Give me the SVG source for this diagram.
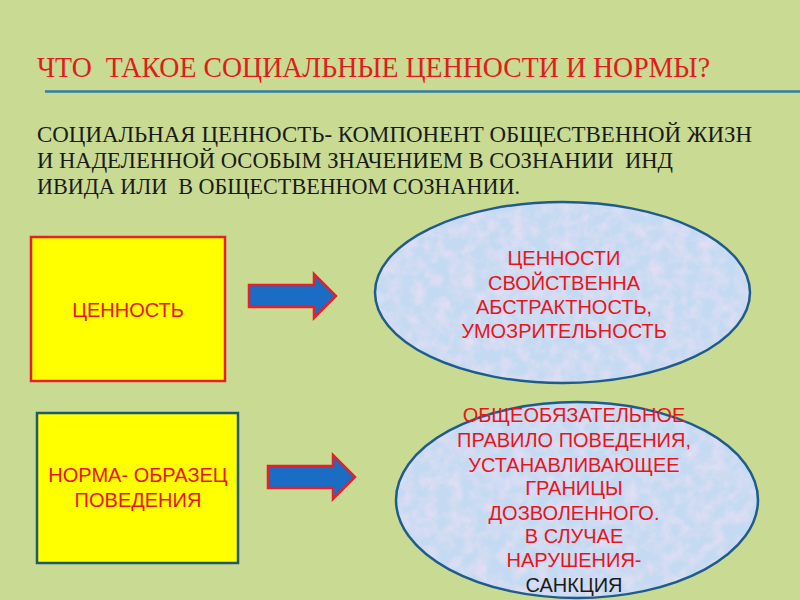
<svg xmlns="http://www.w3.org/2000/svg" width="800" height="600" viewBox="0 0 800 600">
<style>
text{white-space:pre}
.title{font-family:"Liberation Serif","Times New Roman",serif;font-size:29px;fill:#e31b1b}
.para{font-family:"Liberation Serif","Times New Roman",serif;font-size:24px;fill:#1a1a1a}
.lbl{font-family:"Liberation Sans",Arial,sans-serif;font-size:20px;fill:#e8141c;text-anchor:middle}
.blk{fill:#1a1a1a}
.box{fill:#ffff00;stroke-width:2.5}
.ovalfill{fill:#c4daf2}
.ovalline{fill:none;stroke:#1f5c8c;stroke-width:2.5}
.arrow{fill:#1b6cc4;stroke:#e5202a;stroke-width:2.5;stroke-linejoin:miter}
</style>
<defs>
<filter id="tex" x="0" y="0" width="100%" height="100%">
<feTurbulence type="fractalNoise" baseFrequency="0.08" numOctaves="3" seed="4" result="n"/>
<feColorMatrix in="n" type="matrix" values="0 0 0 0 0.93  0 0 0 0 0.76  0 0 0 0 0.92  1.1 0 0 0 -0.4" result="c"/>
<feComposite in="c" in2="SourceGraphic" operator="in" result="m"/>
<feMerge><feMergeNode in="SourceGraphic"/><feMergeNode in="m"/></feMerge>
</filter>
</defs>
<rect width="800" height="600" fill="#c9da93"/>
<text class="title" x="37" y="77" textLength="673" lengthAdjust="spacingAndGlyphs">ЧТО  ТАКОЕ СОЦИАЛЬНЫЕ ЦЕННОСТИ И НОРМЫ?</text>
<line x1="45" y1="91.5" x2="800" y2="91.5" stroke="#2f7ea8" stroke-width="2.5"/>
<g id="definition">
<text class="para" x="37" y="142" textLength="715" lengthAdjust="spacingAndGlyphs">СОЦИАЛЬНАЯ ЦЕННОСТЬ- КОМПОНЕНТ ОБЩЕСТВЕННОЙ ЖИЗН</text>
<text class="para" x="37" y="168" textLength="636" lengthAdjust="spacingAndGlyphs">И НАДЕЛЕННОЙ ОСОБЫМ ЗНАЧЕНИЕМ В СОЗНАНИИ  ИНД</text>
<text class="para" x="37" y="194" textLength="483" lengthAdjust="spacingAndGlyphs">ИВИДА ИЛИ  В ОБЩЕСТВЕННОМ СОЗНАНИИ.</text>
</g>
<g id="value-box">
<rect class="box" x="31" y="237" width="194" height="144" stroke="#e5202a"/>
<text class="lbl" x="128" y="317">ЦЕННОСТЬ</text>
</g>
<g id="value-oval">
<ellipse class="ovalfill" cx="562.5" cy="292.5" rx="187.5" ry="90.5" filter="url(#tex)"/>
<ellipse class="ovalline" cx="562.5" cy="292.5" rx="187.5" ry="90.5"/>
<text class="lbl" x="564" y="265">ЦЕННОСТИ</text>
<text class="lbl" x="564" y="290">СВОЙСТВЕННА</text>
<text class="lbl" x="564" y="314">АБСТРАКТНОСТЬ,</text>
<text class="lbl" x="564" y="338">УМОЗРИТЕЛЬНОСТЬ</text>
</g>
<g id="norm-box">
<rect class="box" x="37" y="413" width="201" height="150" stroke="#1f5a6b"/>
<text class="lbl" x="138" y="482">НОРМА- ОБРАЗЕЦ</text>
<text class="lbl" x="138" y="507">ПОВЕДЕНИЯ</text>
</g>
<g id="norm-oval">
<ellipse class="ovalfill" cx="577" cy="500" rx="181" ry="98" filter="url(#tex)"/>
<ellipse class="ovalline" cx="577" cy="500" rx="181" ry="98"/>
<text class="lbl" x="574" y="422">ОБЩЕОБЯЗАТЕЛЬНОЕ</text>
<text class="lbl" x="574" y="447">ПРАВИЛО ПОВЕДЕНИЯ,</text>
<text class="lbl" x="574" y="472">УСТАНАВЛИВАЮЩЕЕ</text>
<text class="lbl" x="574" y="495">ГРАНИЦЫ</text>
<text class="lbl" x="574" y="520">ДОЗВОЛЕННОГО.</text>
<text class="lbl" x="574" y="543">В СЛУЧАЕ</text>
<text class="lbl" x="574" y="567">НАРУШЕНИЯ-</text>
<text class="lbl blk" x="574" y="592">САНКЦИЯ</text>
</g>
<g id="connectors">
<path class="arrow" d="M249,285 H314 V274 L336,296 L314,318 V307 H249 Z"/>
<path class="arrow" d="M268,466 H333 V455 L355,477 L333,499 V488 H268 Z"/>
</g>
</svg>
